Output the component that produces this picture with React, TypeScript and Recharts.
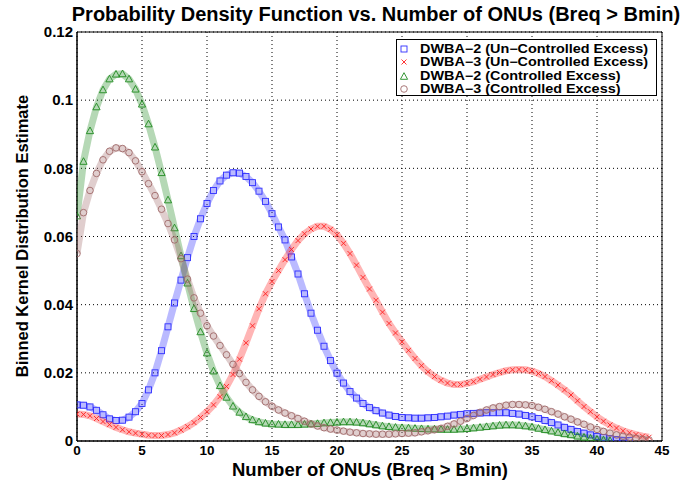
import React from 'react';
import { ComposedChart, Scatter, XAxis, YAxis, CartesianGrid, ReferenceArea } from 'recharts';

const X_STEP = 0.5;
const X_TICKS = [0, 5, 10, 15, 20, 25, 30, 35, 40, 45];
const Y_TICKS = [0, 0.02, 0.04, 0.06, 0.08, 0.1, 0.12];
const Y_TICK_LABELS = ['0', '0.02', '0.04', '0.06', '0.08', '0.1', '0.12'];

const SERIES_NAMES = [
  'DWBA\u22122 (Un\u2212Controlled Excess)',
  'DWBA\u22123 (Un\u2212Controlled Excess)',
  'DWBA\u22122 (Controlled Excess)',
  'DWBA\u22123 (Controlled Excess)',
];

// DWBA-2 (Un-Controlled Excess), x = 0, 0.5, 1, ...
const dwba2Uncontrolled = [
  0.0106, 0.0105, 0.0100, 0.0090, 0.0077, 0.0065, 0.0060, 0.0061, 0.0070, 0.0086,
  0.0110, 0.0150, 0.0200, 0.0265, 0.0335, 0.0405, 0.0472, 0.0538, 0.0600, 0.0652,
  0.0697, 0.0735, 0.0763, 0.0780, 0.0787, 0.0786, 0.0776, 0.0758, 0.0733, 0.0703,
  0.0667, 0.0628, 0.0590, 0.0540, 0.0490, 0.0432, 0.0375, 0.0325, 0.0278, 0.0236,
  0.0199, 0.0170, 0.0145, 0.0126, 0.0110, 0.0098, 0.0089, 0.0082, 0.0076, 0.0072,
  0.0069, 0.0068, 0.0067, 0.0067, 0.0068, 0.0069, 0.0071, 0.0073, 0.0076, 0.0078,
  0.0080, 0.0081, 0.0082, 0.0083, 0.0083, 0.0083, 0.0083, 0.0081, 0.0079, 0.0075,
  0.0071, 0.0066, 0.0060, 0.0054, 0.0047, 0.0040, 0.0034, 0.0028, 0.0023, 0.0018,
  0.0013, 0.0010, 0.0007, 0.0004, 0.0002, 0.0001,
];

// DWBA-3 (Un-Controlled Excess)
const dwba3Uncontrolled = [
  0.0079, 0.0078, 0.0074, 0.0066, 0.0057, 0.0048, 0.0040, 0.0033, 0.0027, 0.0023,
  0.0020, 0.0017, 0.0016, 0.0016, 0.0019, 0.0024, 0.0032, 0.0042, 0.0054, 0.0069,
  0.0086, 0.0106, 0.0130, 0.0160, 0.0195, 0.0240, 0.0288, 0.0338, 0.0388, 0.0432,
  0.0468, 0.0500, 0.0532, 0.0562, 0.0588, 0.0608, 0.0622, 0.0630, 0.0630, 0.0621,
  0.0605, 0.0580, 0.0550, 0.0516, 0.0480, 0.0446, 0.0413, 0.0378, 0.0345, 0.0317,
  0.0291, 0.0266, 0.0242, 0.0221, 0.0203, 0.0189, 0.0178, 0.0170, 0.0166, 0.0166,
  0.0169, 0.0174, 0.0181, 0.0188, 0.0195, 0.0201, 0.0206, 0.0209, 0.0210, 0.0209,
  0.0205, 0.0198, 0.0189, 0.0177, 0.0164, 0.0150, 0.0135, 0.0118, 0.0101, 0.0086,
  0.0071, 0.0058, 0.0047, 0.0038, 0.0030, 0.0024, 0.0019, 0.0014, 0.0011,
];

// DWBA-2 (Controlled Excess)
const dwba2Controlled = [
  0.0660, 0.0820, 0.0910, 0.0980, 0.1030, 0.1062, 0.1076, 0.1077, 0.1062, 0.1032,
  0.0988, 0.0930, 0.0862, 0.0787, 0.0707, 0.0625, 0.0543, 0.0463, 0.0388, 0.0320,
  0.0258, 0.0205, 0.0162, 0.0128, 0.0102, 0.0084, 0.0071, 0.0062, 0.0056, 0.0052,
  0.0050, 0.0049, 0.0048, 0.0048, 0.0048, 0.0049, 0.0050, 0.0051, 0.0053, 0.0054,
  0.0055, 0.0056, 0.0056, 0.0055, 0.0053, 0.0050, 0.0047, 0.0044, 0.0042, 0.0040,
  0.0039, 0.0038, 0.0037, 0.0036, 0.0035, 0.0035, 0.0034, 0.0034, 0.0034, 0.0035,
  0.0036, 0.0038, 0.0040, 0.0042, 0.0044, 0.0046, 0.0047, 0.0047, 0.0046, 0.0044,
  0.0041, 0.0037, 0.0033, 0.0029, 0.0025, 0.0021, 0.0018, 0.0014, 0.0011, 0.0008,
  0.0005, 0.0003, 0.0001,
];

// DWBA-3 (Controlled Excess)
const dwba3Controlled = [
  0.0550, 0.0670, 0.0735, 0.0785, 0.0825, 0.0850, 0.0860, 0.0858, 0.0846, 0.0822,
  0.0790, 0.0755, 0.0720, 0.0680, 0.0638, 0.0590, 0.0535, 0.0475, 0.0420, 0.0375,
  0.0338, 0.0308, 0.0280, 0.0253, 0.0225, 0.0198, 0.0172, 0.0150, 0.0131, 0.0115,
  0.0102, 0.0091, 0.0082, 0.0074, 0.0066, 0.0058, 0.0050, 0.0044, 0.0039, 0.0035,
  0.0032, 0.0029, 0.0026, 0.0024, 0.0022, 0.0021, 0.0020, 0.0020, 0.0020, 0.0021,
  0.0022, 0.0023, 0.0024, 0.0027, 0.0030, 0.0033, 0.0037, 0.0043, 0.0050, 0.0058,
  0.0066, 0.0075, 0.0084, 0.0091, 0.0097, 0.0101, 0.0105, 0.0107, 0.0107, 0.0106,
  0.0104, 0.0099, 0.0093, 0.0086, 0.0079, 0.0071, 0.0064, 0.0056, 0.0049, 0.0041,
  0.0034, 0.0028, 0.0023, 0.0018, 0.0014, 0.0011, 0.0008, 0.0005, 0.0003,
];

const toPoints = (vals: number[]) => vals.map((y, i) => ({ x: i * X_STEP, y }));

const BLUE = '#2f2fff';
const RED = '#ff1f1f';
const GREEN = '#1f8a1f';
const BROWN = '#a06a6a';

const FONT = '"Liberation Sans", Arial, Helvetica, sans-serif';

const Square = (props: any) => {
  const { cx, cy } = props;
  if (cx == null || cy == null) return null;
  return <rect x={cx - 3} y={cy - 3} width={6} height={6} fill="none" stroke={BLUE} strokeWidth={0.9} />;
};
const Cross = (props: any) => {
  const { cx, cy } = props;
  if (cx == null || cy == null) return null;
  return (
    <g stroke={RED} strokeWidth={0.9}>
      <line x1={cx - 2.5} y1={cy - 2.5} x2={cx + 2.5} y2={cy + 2.5} />
      <line x1={cx - 2.5} y1={cy + 2.5} x2={cx + 2.5} y2={cy - 2.5} />
    </g>
  );
};
const Tri = (props: any) => {
  const { cx, cy } = props;
  if (cx == null || cy == null) return null;
  return <path d={`M${cx},${cy - 3.8}L${cx + 3.6},${cy + 2.8}L${cx - 3.6},${cy + 2.8}Z`} fill="none" stroke={GREEN} strokeWidth={0.9} />;
};
const Circ = (props: any) => {
  const { cx, cy } = props;
  if (cx == null || cy == null) return null;
  return <circle cx={cx} cy={cy} r={3.3} fill="none" stroke={BROWN} strokeWidth={0.9} />;
};

const LegendMarker = ({ kind }: { kind: number }) => (
  <svg width={12} height={12} style={{ display: 'block' }}>
    {kind === 0 && <Square cx={6} cy={6} />}
    {kind === 1 && <Cross cx={6} cy={6} />}
    {kind === 2 && <Tri cx={6} cy={6.5} />}
    {kind === 3 && <Circ cx={6} cy={6} />}
  </svg>
);

export default function App() {
  const series = [
    { data: toPoints(dwba2Uncontrolled), shape: Square, color: BLUE },
    { data: toPoints(dwba3Uncontrolled), shape: Cross, color: RED },
    { data: toPoints(dwba2Controlled), shape: Tri, color: GREEN },
    { data: toPoints(dwba3Controlled), shape: Circ, color: BROWN },
  ];
  return (
    <div style={{ position: 'absolute', left: 0, top: 0, width: 686, height: 480, background: '#fff', fontFamily: FONT }}>
      <ComposedChart width={686} height={480} margin={{ top: 32, right: 24, bottom: 9, left: 17 }}>
        <CartesianGrid stroke="#000" strokeDasharray="1 3" strokeWidth={1} />
        <XAxis
          type="number"
          dataKey="x"
          domain={[0, 45]}
          ticks={X_TICKS}
          height={30}
          tickSize={0}
          tickMargin={4}
          axisLine={{ stroke: '#000' }}
          tick={{ fill: '#000', fontSize: 13.5, fontWeight: 'bold', fontFamily: FONT }}
          allowDataOverflow
        />
        <YAxis
          type="number"
          dataKey="y"
          domain={[0, 0.12]}
          ticks={Y_TICKS}
          width={60}
          tickSize={0}
          tickMargin={4}
          axisLine={{ stroke: '#000' }}
          tickFormatter={(v: number) => Y_TICK_LABELS[Y_TICKS.indexOf(v)] ?? String(v)}
          tick={{ fill: '#000', fontSize: 15, fontWeight: 'bold', fontFamily: FONT }}
          allowDataOverflow
        />
        {series.map((s, i) => (
          <Scatter
            key={i}
            name={SERIES_NAMES[i]}
            data={s.data}
            shape={s.shape}
            line={{ stroke: s.color, strokeWidth: 7, strokeOpacity: 0.33 }}
            isAnimationActive={false}
          />
        ))}
        <ReferenceArea x1={0} x2={45} y1={0} y2={0.12} fill="none" stroke="#000" strokeWidth={1} ifOverflow="visible" />
      </ComposedChart>

      <div style={{ position: 'absolute', left: 26, width: 700, top: 4, textAlign: 'center', fontSize: 20, lineHeight: '20px', fontWeight: 'bold', color: '#000', whiteSpace: 'nowrap' }}>
        Probability Density Function vs. Number of ONUs (Breq &gt; Bmin)
      </div>
      <div style={{ position: 'absolute', left: 120, width: 500, top: 461, textAlign: 'center', fontSize: 18.5, lineHeight: '18px', fontWeight: 'bold', color: '#000', whiteSpace: 'nowrap' }}>
        Number of ONUs (Breq &gt; Bmin)
      </div>
      <div style={{ position: 'absolute', left: 22 - 200, width: 400, top: 236 - 9, textAlign: 'center', fontSize: 16.5, lineHeight: '18px', fontWeight: 'bold', color: '#000', transform: 'rotate(-90deg)', transformOrigin: '200px 9px', whiteSpace: 'nowrap' }}>
        Binned Kernel Distribution Estimate
      </div>
      <div style={{ position: 'absolute', left: 396, top: 39, width: 261, height: 57, border: '1px solid #000', background: '#fff', boxSizing: 'border-box', padding: '2px 0 0 0' }}>
        {SERIES_NAMES.map((name, i) => (
          <div key={i} style={{ display: 'flex', alignItems: 'center', height: 13.5 }}>
            <div style={{ width: 12, marginLeft: 1, marginRight: 10 }}><LegendMarker kind={i} /></div>
            <div style={{ fontSize: 12, fontWeight: 'bold', color: '#000', whiteSpace: 'nowrap', transform: 'scaleX(1.2)', transformOrigin: '0 50%' }}>{name}</div>
          </div>
        ))}
      </div>
    </div>
  );
}
